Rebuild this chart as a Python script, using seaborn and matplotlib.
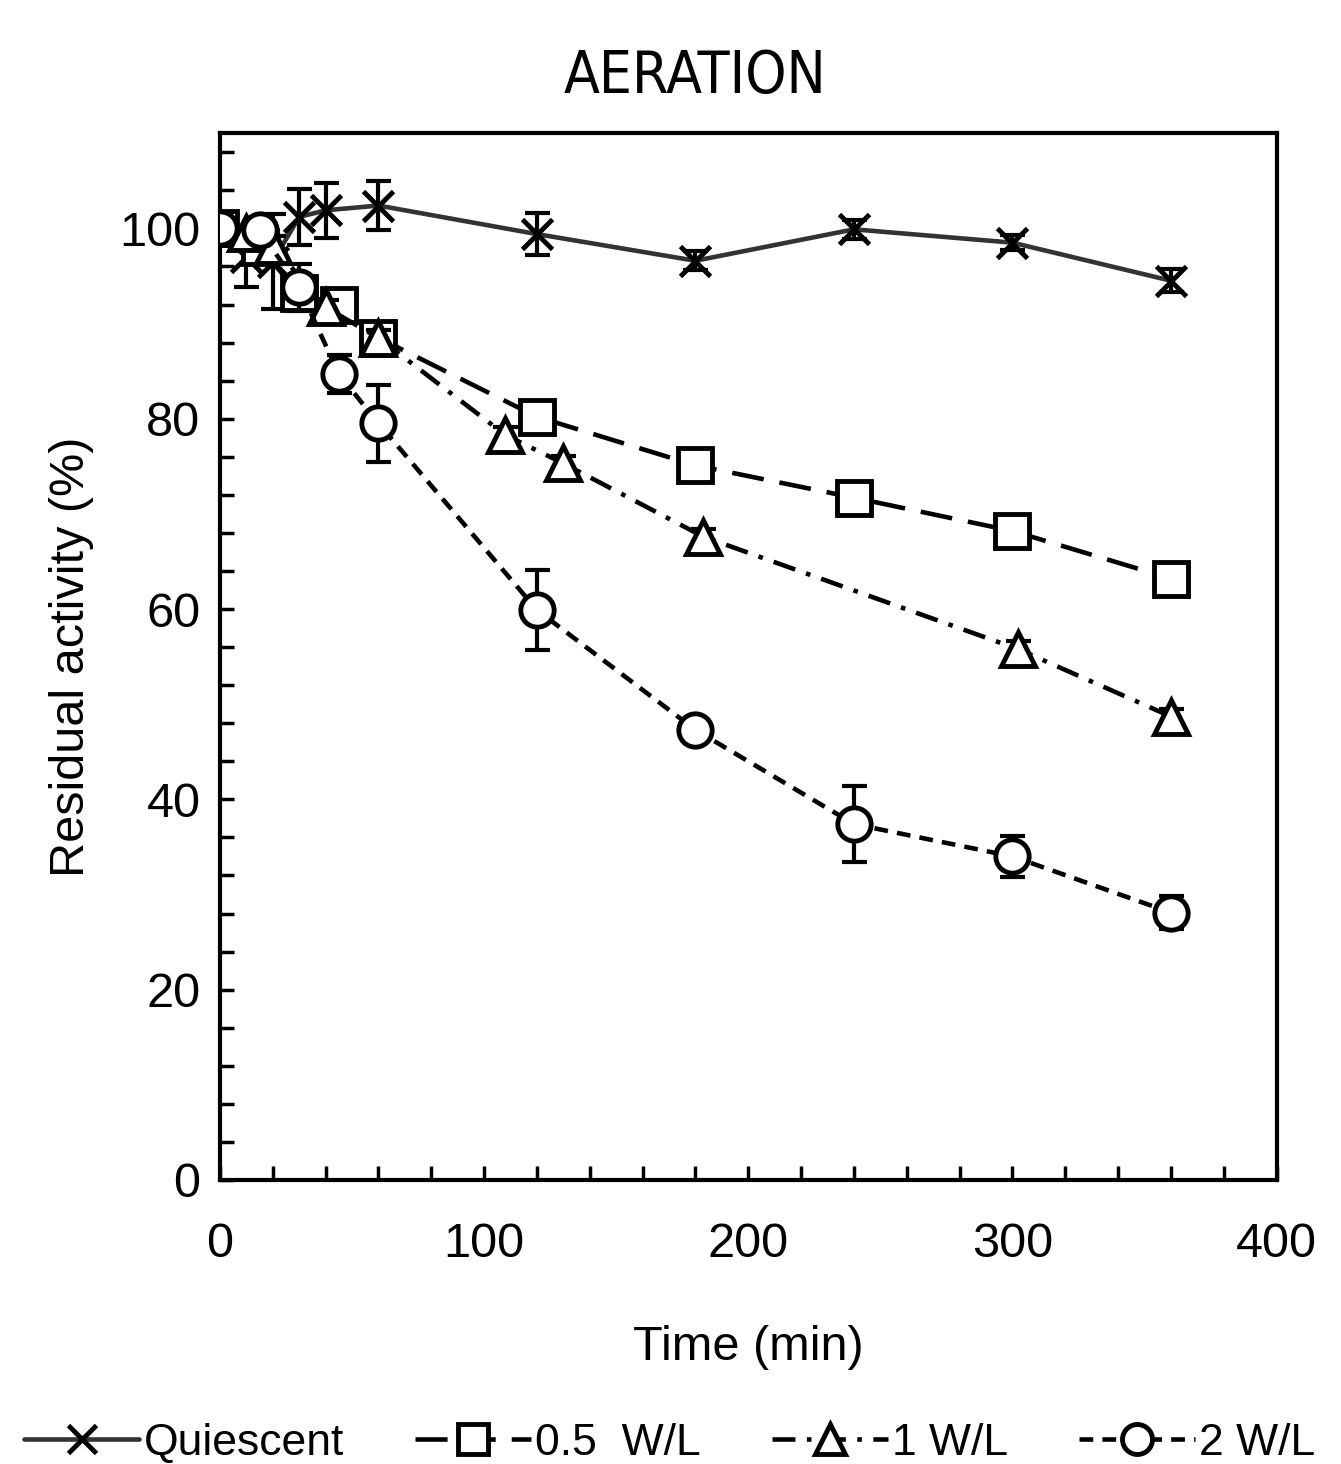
import numpy as np
import seaborn as sns
import matplotlib.pyplot as plt
from matplotlib.ticker import MultipleLocator

# data
t_q = [0, 10, 20, 30, 40, 60, 120, 180, 240, 300, 360]
y_q = [100, 97.0, 96.5, 101.2, 101.9, 102.4, 99.4, 96.6, 99.9, 98.5, 94.5]
e_q = [0.5, 3.2, 5.0, 2.9, 2.9, 2.6, 2.2, 1.0, 1.0, 0.8, 1.2]

t_05 = [0, 15, 30, 45, 60, 120, 180, 240, 300, 360]
y_05 = [100, 98.0, 93.2, 91.9, 88.5, 80.2, 75.1, 71.7, 68.2, 63.2]
e_05 = [0.5, 1.0, 1.5, 0.8, 1.0, 1.6, 0.8, 1.5, 0.8, 0.8]

t_1 = [0, 10, 20, 40, 60, 108, 130, 183, 302, 360]
y_1 = [100, 99.5, 98.2, 91.7, 88.5, 78.3, 75.3, 67.6, 55.8, 48.7]
e_1 = [0.5, 0.8, 1.0, 0.8, 0.8, 0.8, 0.8, 0.8, 0.8, 0.8]

t_2 = [0, 15, 30, 45, 60, 120, 180, 240, 300, 360]
y_2 = [100, 99.8, 93.8, 84.7, 79.5, 59.9, 47.3, 37.4, 34.0, 28.1]
e_2 = [0.5, 0.8, 2.5, 2.0, 4.0, 4.2, 0.8, 4.0, 2.2, 1.7]

labels = ['Quiescent', '0.5  W/L', '1 W/L', '2 W/L']

sns.set_style('white')
plt.rcParams['font.family'] = ['Liberation Sans', 'DejaVu Sans']
plt.rcParams['text.color'] = 'black'
plt.rcParams['axes.labelcolor'] = 'black'
plt.rcParams['xtick.color'] = 'black'
plt.rcParams['ytick.color'] = 'black'

fig = plt.figure(figsize=(13.41, 14.64), dpi=100)
ax = fig.add_axes([0.164, 0.194, 0.788, 0.715])

series = [
    (t_q, y_q, e_q, 'x', '-', '#333333', 22),
    (t_05, y_05, e_05, 's', (0, (7, 3.5)), 'black', 24),
    (t_1, y_1, e_1, '^', (0, (5, 2.5, 1, 2.5)), 'black', 24),
    (t_2, y_2, e_2, 'o', (0, (3, 2)), 'black', 24),
]

for i, (t, y, e, m, ls, c, ms) in enumerate(series):
    ax.errorbar(t, y, yerr=e, fmt='none', ecolor='black', elinewidth=3,
                capsize=9, capthick=3, zorder=2 + i)
    sns.lineplot(x=t, y=y, ax=ax, color=c, linewidth=3.3, linestyle=ls,
                 marker=m, markersize=ms,
                 markerfacecolor='white', markeredgecolor='black',
                 markeredgewidth=3.5, label=labels[i], sort=False,
                 errorbar=None, zorder=3 + i)

ax.set_xlim(0, 400)
ax.set_ylim(0, 110)
ax.xaxis.set_major_locator(MultipleLocator(100))
ax.xaxis.set_minor_locator(MultipleLocator(20))
ax.yaxis.set_major_locator(MultipleLocator(20))
ax.yaxis.set_minor_locator(MultipleLocator(4))
ax.tick_params(which='both', direction='in', width=2.5, length=10,
               labelsize=35, top=False, right=False, bottom=True, left=True)
ax.tick_params(axis='x', pad=30)
ax.tick_params(axis='y', pad=14)
for s in ax.spines.values():
    s.set_linewidth(3)
    s.set_color('black')

ax.set_xlabel('Time (min)', fontsize=35, labelpad=42)
ax.set_ylabel('Residual activity (%)', fontsize=35, labelpad=18)
fig.text(0.518, 0.948, 'AERATION', ha='center', va='center', fontsize=42,
         family=['DejaVu Sans'], stretch='condensed')

ax.get_legend().remove()
h, l = ax.get_legend_handles_labels()
fig.legend(h, l, loc='center left', bbox_to_anchor=(-0.012, 0.014), ncol=4,
           frameon=False, fontsize=32, handlelength=2.6, columnspacing=1.6,
           handletextpad=0.1, markerscale=0.9)

fig.savefig('out.png', dpi=100)
